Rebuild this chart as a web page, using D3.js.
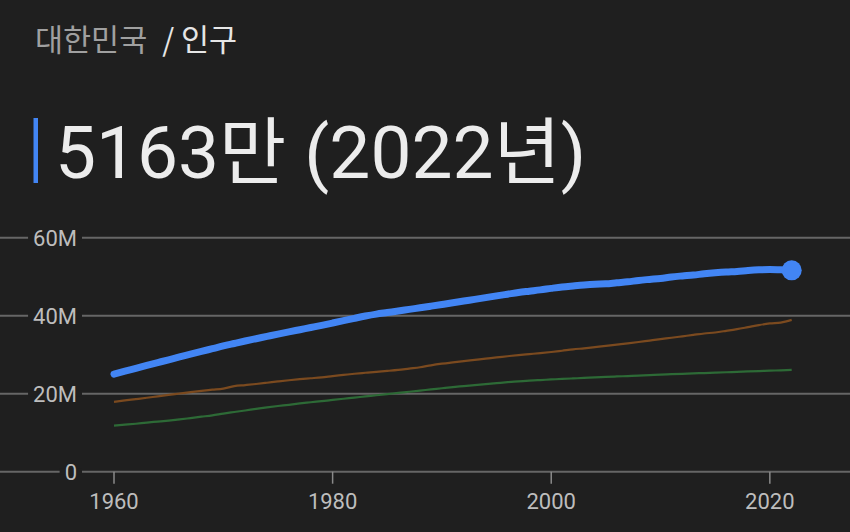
<!DOCTYPE html>
<html><head><meta charset="utf-8">
<script src="https://cdn.jsdelivr.net/npm/d3@7"></script>
<style>
html,body{margin:0;padding:0;background:#1f1f1f;}
svg{display:block;}
</style></head>
<body>
<svg id="c" width="850" height="532"></svg>
<script>
const years = d3.range(1960, 2023);
// 대한민국 population (millions)
const korea = [25.01,25.77,26.51,27.26,27.98,28.70,29.44,30.13,30.84,31.54,32.24,32.88,33.51,34.10,34.69,35.28,35.85,36.41,36.97,37.53,38.12,38.72,39.33,39.91,40.41,40.81,41.21,41.62,42.03,42.45,42.87,43.30,43.75,44.19,44.64,45.09,45.52,45.95,46.29,46.62,47.01,47.37,47.64,47.89,48.08,48.18,48.44,48.68,49.05,49.31,49.55,49.94,50.20,50.43,50.75,51.01,51.22,51.36,51.59,51.76,51.84,51.77,51.63];
// comparison series 1 (brown)
const series2 = [17.91,18.27,18.61,18.96,19.33,19.68,20.05,20.41,20.74,21.03,21.32,21.96,22.22,22.49,22.81,23.14,23.45,23.73,23.96,24.20,24.52,24.82,25.12,25.37,25.61,25.84,26.10,26.45,26.79,27.28,27.69,28.04,28.37,28.68,29.00,29.30,29.61,29.91,30.16,30.40,30.69,31.02,31.36,31.64,31.94,32.24,32.57,32.89,33.25,33.63,34.00,34.34,34.71,35.08,35.44,35.70,36.11,36.55,37.07,37.60,38.01,38.23,38.93];
// comparison series 2 (green)
const series3 = [11.8,12.05,12.3,12.6,12.85,13.1,13.4,13.75,14.1,14.45,14.9,15.3,15.7,16.1,16.5,16.85,17.15,17.5,17.8,18.1,18.4,18.7,19.0,19.3,19.6,19.9,20.2,20.5,20.8,21.1,21.4,21.7,21.95,22.2,22.45,22.7,22.95,23.15,23.35,23.5,23.65,23.8,23.92,24.05,24.2,24.3,24.42,24.53,24.65,24.77,24.9,25.0,25.1,25.2,25.3,25.4,25.5,25.6,25.7,25.8,25.9,26.0,26.1];
const yTicks = [0, 20, 40, 60];
const yTickLabels = ["0", "20M", "40M", "60M"];
const xTicks = [1960, 1980, 2000, 2020];
const breadcrumbA = "대한민국";
const breadcrumbB = "/ 인구";
const headline = "5163만 (2022년)";

const svg = d3.select("#c");
const bg = "#1f1f1f";
svg.append("rect").attr("width",850).attr("height",532).attr("fill",bg);

const x = d3.scaleLinear().domain([1960, 2022]).range([114, 791.7]);
const y = d3.scaleLinear().domain([0, 60]).range([471.7, 237.7]);

// title
const t = svg.append("text").attr("x",35).attr("y",51)
  .attr("font-family","'Noto Sans CJK KR', sans-serif").attr("font-size",30.5);
t.append("tspan").attr("fill","#a0a0a0").text(breadcrumbA);
t.append("tspan").attr("fill","#e6e6e6").attr("dx",15).text(breadcrumbB);

// headline
svg.append("rect").attr("x",33.5).attr("y",118).attr("width",4.5).attr("height",65).attr("fill","#4285f4");
svg.append("text").attr("x",55).attr("y",178)
  .attr("font-family","Roboto, 'Noto Sans CJK KR', sans-serif").attr("font-size",73)
  .attr("fill","#ececec").text(headline);

// grid
const grid = svg.append("g");
yTicks.forEach((v,i)=>{
  grid.append("line").attr("x1",0).attr("x2",850).attr("y1",y(v)).attr("y2",y(v))
    .attr("stroke","#666").attr("stroke-width",2);
});
// x axis ticks
const xa = svg.append("g");
xTicks.forEach(v=>{
  xa.append("line").attr("x1",x(v)).attr("x2",x(v)).attr("y1",y(0)).attr("y2",y(0)+12)
    .attr("stroke","#8a8a8a").attr("stroke-width",1.5);
  xa.append("text").attr("x",x(v)).attr("y",509).attr("text-anchor","middle")
    .attr("font-family","Roboto, sans-serif").attr("font-size",22).attr("fill","#bdbdbd").text(v);
});
// y labels with background
yTicks.forEach((v,i)=>{
  const g = svg.append("g");
  const txt = g.append("text").attr("x",77).attr("y",y(v)+8).attr("text-anchor","end")
    .attr("font-family","Roboto, sans-serif").attr("font-size",22).attr("fill","#bdbdbd").text(yTickLabels[i]);
  const bb = txt.node().getBBox();
  g.insert("rect","text").attr("x",bb.x-5).attr("y",y(v)-3).attr("width",bb.width+10).attr("height",6).attr("fill",bg);
});

const line = d3.line().x((d,i)=>x(years[i])).y(d=>y(d)).curve(d3.curveMonotoneX);
svg.append("path").datum(series3).attr("d",line).attr("fill","none").attr("stroke","#2d6a36").attr("stroke-width",2.2);
svg.append("path").datum(series2).attr("d",line).attr("fill","none").attr("stroke","#7b4a1f").attr("stroke-width",2.2);
svg.append("path").datum(korea).attr("d",line).attr("fill","none").attr("stroke","#4285f4").attr("stroke-width",7).attr("stroke-linecap","round").attr("stroke-linejoin","round");
svg.append("circle").attr("cx",x(2022)).attr("cy",y(korea[korea.length-1])).attr("r",10).attr("fill","#4285f4");
</script>
</body></html>
